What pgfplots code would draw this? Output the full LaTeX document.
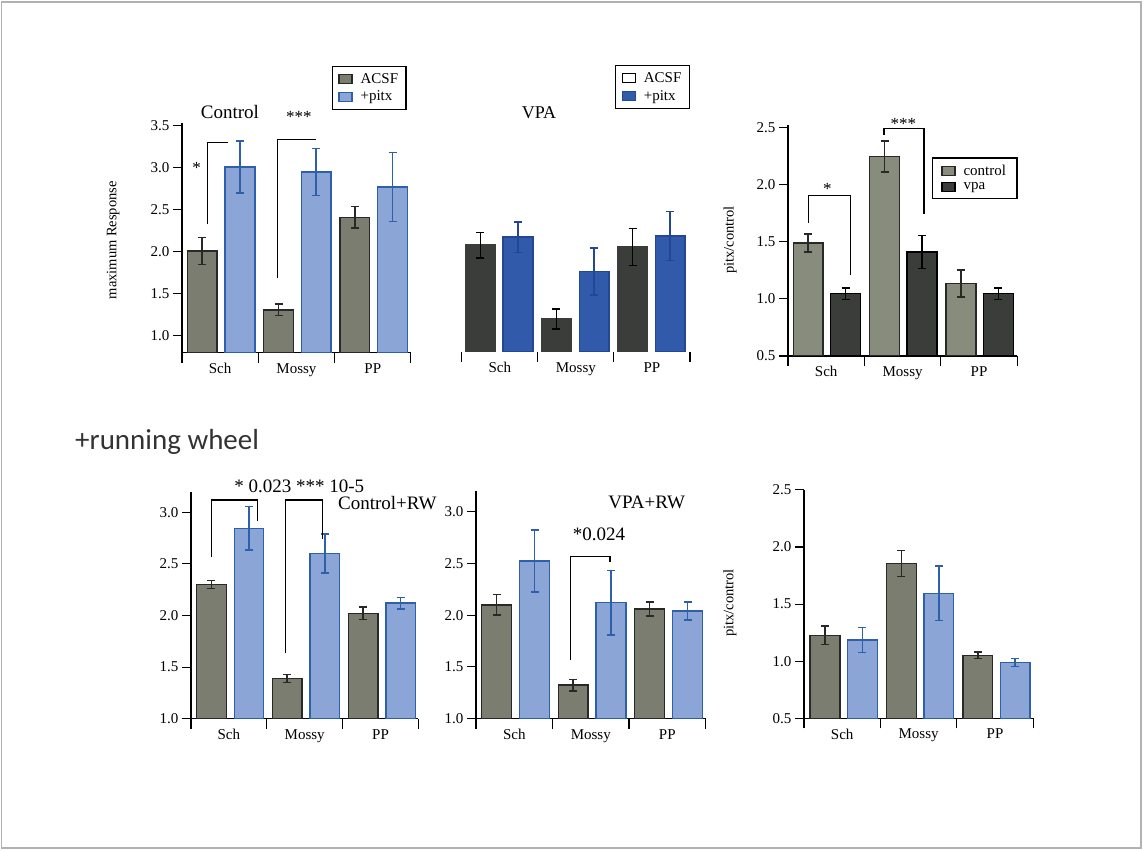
\documentclass[border=0pt]{standalone}
\usepackage{fontspec}
\setmainfont{Liberation Serif}
\newfontfamily\sansf{Carlito}
\usepackage{pgfplots}
\pgfplotsset{compat=1.18}
\newcommand{\fs}[1]{\fontsize{#1}{#1}\selectfont}
\definecolor{acsf}{RGB}{122,125,112}
\definecolor{acsfline}{RGB}{40,40,38}
\definecolor{pitx}{RGB}{140,165,215}
\definecolor{pitxline}{RGB}{45,95,170}
\definecolor{vdark}{RGB}{58,61,58}
\definecolor{vblue}{RGB}{50,90,170}
\definecolor{vblueline}{RGB}{35,70,150}
\definecolor{ctrl}{RGB}{135,140,125}
\tikzset{brk/.style={line width=1.2pt, black}}
\pgfplotsset{
  panel/.style={
    scale only axis, clip mode=individual,
    axis x line*=bottom, axis y line*=left,
    xmin=0, xmax=3,
    xtick={0.5,1.5,2.5}, xticklabels={Sch,Mossy,PP},
    minor xtick={0,1,2,3},
    major x tick style={draw=none},
    tick align=outside,
    major tick length=9pt, minor tick length=10pt,
    tick style={line width=1.1pt, black},
    axis line style={line width=1.1pt, black},
    ticklabel style={font=\fs{15}},
    yticklabel style={/pgf/number format/.cd, fixed, fixed zerofill, precision=1, assume math mode=true},
    xticklabel style={yshift=2pt},
    legend image code/.code={\draw[##1] (0pt,-4.5pt) rectangle (13pt,4.5pt); \path (19pt,0pt);},
    legend style={draw=black, line width=1.3pt, font=\fs{15}, cells={anchor=west}, row sep=2pt, inner xsep=6pt, inner ysep=5pt},
    every axis y label/.style={rotate=90, anchor=center, font=\fs{14.5}},
  },
  bars/.style n args={3}{ybar, bar width=0.39, bar shift=0pt, fill=#1, draw=#2, line width=1.4pt,
    /pgfplots/error bars/y dir=both, /pgfplots/error bars/y explicit,
    /pgfplots/error bars/error bar style={line width=1.6pt, draw=#3},
    /pgfplots/error bars/error mark options={rotate=90, line width=1.6pt, mark size=4pt, draw=#3}},
}
\begin{document}
\begin{tikzpicture}
\path (0pt,0pt) rectangle (1143pt,851pt);
\draw[gray!60, line width=1.3pt] (1.5pt,3pt) rectangle (1141pt,849pt);
\node[anchor=base west, inner sep=0pt, font=\sansf\fs{29}, text=black!80] at (75pt,401.7pt) {+running wheel};

% Panel 1: Control
\begin{axis}[panel, at={(182pt,498.3pt)}, anchor=south west, x=76.3pt, y=84.1pt,
  ymin=0.8, ymax=3.53, ytick={1,1.5,2,2.5,3,3.5},
  ylabel={maximum Response}, ylabel style={at={(axis description cs:-0.301,0.49)}},
  legend style={at={(0.982,1.249)}, anchor=north east}]
\addlegendimage{fill=acsf, draw=acsfline, line width=1.2pt}\addlegendentry{ACSF}
\addlegendimage{fill=pitx, draw=pitxline, line width=1.2pt}\addlegendentry{+pitx}
\addplot[forget plot, bars={acsf}{acsfline}{acsfline}] coordinates {(0.265,2.01) +- (0,0.16) (1.265,1.31) +- (0,0.07) (2.265,2.41) +- (0,0.13)};
\addplot[forget plot, bars={pitx}{pitxline}{pitxline}] coordinates {(0.76,3.01) +- (0,0.31) (1.76,2.95) +- (0,0.28) (2.76,2.77) +- (0,0.41)};
\draw[brk] (axis cs:0.332,2.327) |- (axis cs:0.607,3.297);
\draw[brk] (axis cs:1.254,1.685) |- (axis cs:1.756,3.337);
\node[font=\fs{17}] at (axis cs:0.193,3.0) {*};
\node[font=\fs{17}] at (axis cs:1.533,3.6) {***};
\node[font=\fs{19}] at (axis cs:0.629,3.666) {Control};
\end{axis}

% Panel 2: VPA
\begin{axis}[panel, at={(461.7pt,499pt)}, anchor=south west, x=76.1pt, y=84.1pt,
  ymin=0.8, ymax=3.53, axis y line=none, ytick=\empty,
  x axis line style={draw=none},
  legend style={at={(1.0,1.25)}, anchor=north east}]
\addlegendimage{fill=white, draw=black, line width=1.2pt}\addlegendentry{ACSF}
\addlegendimage{fill=vblue, draw=vblueline, line width=1.2pt}\addlegendentry{+pitx}
\addplot[forget plot, bars={vdark}{vdark}{black}] coordinates {(0.245,2.07) +- (0,0.15) (1.245,1.19) +- (0,0.12) (2.245,2.05) +- (0,0.22)};
\addplot[forget plot, bars={vblue}{vblueline}{vblueline}] coordinates {(0.74,2.165) +- (0,0.18) (1.74,1.76) +- (0,0.28) (2.74,2.18) +- (0,0.29)};
\node[font=\fs{18}] at (axis cs:1.016,3.642) {VPA};
\end{axis}

% Panel 3: ratio
\begin{axis}[panel, at={(788pt,495pt)}, anchor=south west, x=76.4pt, y=114.2pt,
  ymin=0.5, ymax=2.52, ytick={0.5,1,1.5,2,2.5},
  ylabel={pitx/control}, ylabel style={at={(axis description cs:-0.253,0.503)}},
  legend style={at={(1.002,0.861)}, anchor=north east, inner xsep=9pt}]
\addlegendimage{fill=ctrl, draw=acsfline, line width=1.2pt}\addlegendentry{control}
\addlegendimage{fill=vdark, draw=black, line width=1.2pt}\addlegendentry{vpa}
\addplot[forget plot, bars={ctrl}{acsfline}{acsfline}] coordinates {(0.265,1.49) +- (0,0.08) (1.265,2.245) +- (0,0.135) (2.265,1.135) +- (0,0.12)};
\addplot[forget plot, bars={vdark}{black}{black}] coordinates {(0.755,1.045) +- (0,0.05) (1.755,1.41) +- (0,0.145) (2.755,1.045) +- (0,0.05)};
\draw[brk] (axis cs:0.266,1.667) |- (axis cs:0.821,1.904) -- (axis cs:0.821,1.209);
\draw[brk] (axis cs:1.257,2.438) |- (axis cs:1.780,2.494) -- (axis cs:1.780,1.741);
\node[font=\fs{17}] at (axis cs:0.514,1.96) {*};
\node[font=\fs{17}] at (axis cs:1.509,2.53) {***};
\end{axis}

% Panel 4: Control+RW
\begin{axis}[panel, at={(191pt,132.3pt)}, anchor=south west, x=75.8pt, y=103.2pt,
  ymin=1, ymax=3.2, ytick={1,1.5,2,2.5,3}]
\addplot[forget plot, bars={acsf}{acsfline}{acsfline}] coordinates {(0.27,2.30) +- (0,0.04) (1.27,1.39) +- (0,0.04) (2.27,2.02) +- (0,0.06)};
\addplot[forget plot, bars={pitx}{pitxline}{pitxline}] coordinates {(0.765,2.845) +- (0,0.21) (1.765,2.60) +- (0,0.19) (2.765,2.12) +- (0,0.055)};
\draw[brk] (axis cs:0.273,2.564) |- (axis cs:0.875,3.119) -- (axis cs:0.875,2.916);
\draw[brk] (axis cs:1.244,1.634) |- (axis cs:1.737,3.119) -- (axis cs:1.737,2.741);
\node[font=\fs{19}] at (axis cs:1.429,3.25) {* 0.023 *** 10-5};
\node[font=\fs{19}, anchor=east, inner sep=0pt] at (axis cs:3.241,3.087) {Control+RW};
\end{axis}

% Panel 5: VPA+RW
\begin{axis}[panel, at={(476pt,132.3pt)}, anchor=south west, x=76.5pt, y=103.5pt,
  ymin=1, ymax=3.2, ytick={1,1.5,2,2.5,3}]
\addplot[forget plot, bars={acsf}{acsfline}{acsfline}] coordinates {(0.27,2.10) +- (0,0.10) (1.27,1.325) +- (0,0.055) (2.27,2.06) +- (0,0.065)};
\addplot[forget plot, bars={pitx}{pitxline}{pitxline}] coordinates {(0.765,2.525) +- (0,0.30) (1.765,2.12) +- (0,0.31) (2.765,2.04) +- (0,0.085)};
\draw[brk] (axis cs:1.238,1.567) |- (axis cs:1.752,2.565) -- (axis cs:1.752,2.517);
\node[font=\fs{19}] at (axis cs:1.608,2.785) {*0.024};
\node[font=\fs{19}] at (axis cs:2.231,3.087) {VPA+RW};
\end{axis}

% Panel 6: ratio RW
\begin{axis}[panel, at={(804pt,132.7pt)}, anchor=south west, x=76.4pt, y=114.2pt,
  ymin=0.5, ymax=2.5, ytick={0.5,1,1.5,2,2.5},
  ylabel={pitx/control}, ylabel style={at={(axis description cs:-0.323,0.505)}}]
\addplot[forget plot, bars={acsf}{acsfline}{acsfline}] coordinates {(0.275,1.227) +- (0,0.08) (1.275,1.855) +- (0,0.115) (2.275,1.052) +- (0,0.03)};
\addplot[forget plot, bars={pitx}{pitxline}{pitxline}] coordinates {(0.765,1.185) +- (0,0.11) (1.765,1.595) +- (0,0.24) (2.765,0.987) +- (0,0.035)};
\end{axis}
\end{tikzpicture}
\end{document}
